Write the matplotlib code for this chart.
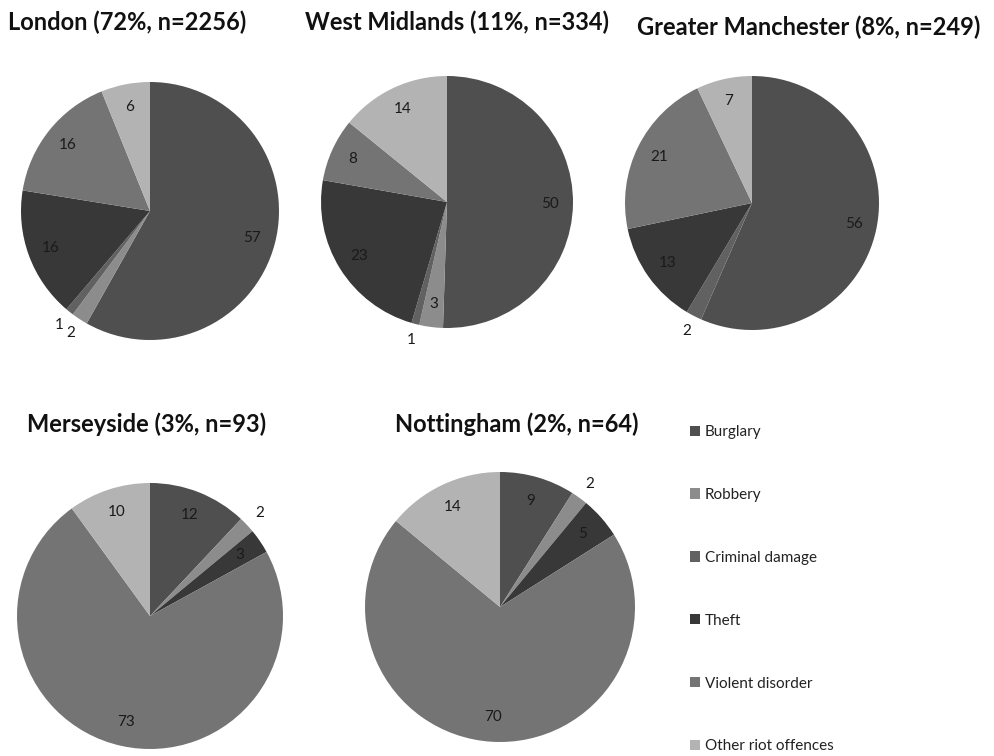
import numpy as np
import matplotlib

matplotlib.use("Agg")
import matplotlib.pyplot as plt
from matplotlib.patches import Patch

plt.rcParams["font.family"] = ["Lato", "DejaVu Sans"]

# offence categories, clockwise from 12 o'clock
offences = ["Burglary", "Robbery", "Criminal damage", "Theft",
            "Violent disorder", "Other riot offences"]
colors = ["#4f4f4f", "#8c8c8c", "#616161", "#383838", "#747474", "#b3b3b3"]

areas = ["London", "West Midlands", "Greater Manchester", "Merseyside", "Nottingham"]
area_share = [72, 11, 8, 3, 2]
area_n = [2256, 334, 249, 93, 64]

london = [57, 2, 1, 16, 16, 6]
west_midlands = [50, 3, 1, 23, 8, 14]
greater_manchester = [56, 0, 2, 13, 21, 7]
merseyside = [12, 2, 0, 3, 73, 10]
nottingham = [9, 2, 0, 5, 70, 14]
values = [london, west_midlands, greater_manchester, merseyside, nottingham]

W, H = 994, 756
fig = plt.figure(figsize=(W / 100, H / 100), dpi=100)

# pie centre / radius in pixels, title anchor in pixels
pie_px = [(150, 211, 129), (447, 202, 126), (752, 203, 127), (150, 616, 133), (500, 607, 135)]
title_px = [(8, 22), (305, 22), (637, 27), (27, 424), (395, 424)]

pad = 1.3
for vals, area, share, n, (cx, cy, r), (tx, ty) in zip(values, areas, area_share, area_n, pie_px, title_px):
    ax = fig.add_axes([(cx - pad * r) / W, (H - cy - pad * r) / H, 2 * pad * r / W, 2 * pad * r / H])
    wedges, _ = ax.pie(vals, colors=colors, startangle=90, counterclock=False,
                       radius=1, wedgeprops=dict(linewidth=0))
    ax.set_xlim(-pad, pad)
    ax.set_ylim(-pad, pad)
    ax.set_aspect("equal")
    ax.axis("off")

    # value labels: inside for bigger slices, just outside for tiny ones
    for w, v in zip(wedges, vals):
        if v == 0:
            continue
        mid = np.deg2rad((w.theta1 + w.theta2) / 2)
        d = 0.82 if v >= 3 else 1.13
        ax.text(d * np.cos(mid), d * np.sin(mid), str(v), ha="center", va="center",
                fontsize=11, color="#1a1a1a")

    fig.text(tx / W, 1 - ty / H, f"{area} ({share}%, n={n})", ha="left", va="center",
             fontsize=17, fontweight="bold", color="#111111")

handles = [Patch(facecolor=c, edgecolor="none") for c in colors]
fig.legend(handles, offences, loc="upper left", bbox_to_anchor=(690 / W, 1 - 425 / H),
           frameon=False, fontsize=11, handlelength=0.65, handleheight=0.65,
           handletextpad=0.3, labelspacing=3.2, borderaxespad=0, borderpad=0,
           labelcolor="#222222")

fig.savefig("out.png", dpi=100)
